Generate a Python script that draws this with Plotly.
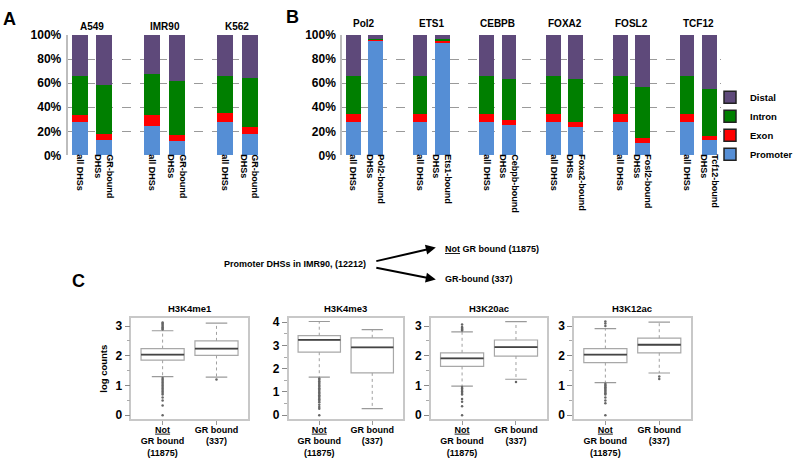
import plotly.graph_objects as go

W, H = 798, 462
FONT = "Liberation Sans, Arial, Helvetica, sans-serif"

# ---------------- Panel A data ----------------
a_groups = ["A549", "IMR90", "K562"]
a_ticks = ["all DHSs", "GR-bound<br>DHSs"] * 3
a_promoter = [27.4, 13.0, 24.5, 12.3, 27.4, 17.7]
a_exon = [6.5, 4.7, 8.8, 4.4, 7.8, 5.7]
a_intron = [31.7, 40.6, 34.4, 44.8, 30.9, 40.8]
a_distal = [34.4, 41.7, 32.3, 38.5, 33.9, 35.8]

# ---------------- Panel B data ----------------
b_groups = ["Pol2", "ETS1", "CEBPB", "FOXA2", "FOSL2", "TCF12"]
b_ticks = ["all DHSs", "Pol2-bound<br>DHSs", "all DHSs", "Ets1-bound<br>DHSs",
           "all DHSs", "Cebpb-bound<br>DHSs", "all DHSs", "Foxa2-bound<br>DHSs",
           "all DHSs", "Fosl2-bound<br>DHSs", "all DHSs", "Tcf12-bound<br>DHSs"]
b_promoter = [27.6, 95.2, 27.6, 93.5, 27.6, 25.3, 27.6, 24.0, 27.6, 10.5, 27.6, 12.7]
b_exon = [6.6, 1.0, 6.6, 1.8, 6.6, 4.0, 6.6, 4.0, 6.6, 4.0, 6.6, 3.2]
b_intron = [31.6, 0.8, 31.6, 1.5, 31.6, 34.4, 31.6, 35.7, 31.6, 42.2, 31.6, 38.9]
b_distal = [34.2, 3.0, 34.2, 3.2, 34.2, 36.3, 34.2, 36.3, 34.2, 43.3, 34.2, 45.2]

pct_vals = [0, 20, 40, 60, 80, 100]
pct_text = ["0%", "20%", "40%", "60%", "80%", "100%"]

categories = ["Promoter", "Exon", "Intron", "Distal"]
colors = {"Promoter": "#558ED5", "Exon": "#FF0000", "Intron": "#007F00", "Distal": "#5E497A"}

# ---------------- Panel C data ----------------
marks = ["H3K4me1", "H3K4me3", "H3K20ac", "H3K12ac"]
box_ticks = ["<span style='text-decoration:underline'>Not</span><br>GR bound<br>(11875)",
             "GR bound<br>(337)"]
# per mark: [Not GR bound, GR bound]
q1 = [[1.85, 2.01], [2.71, 1.82], [1.64, 1.99], [1.77, 2.10]]
med = [[2.04, 2.24], [3.24, 2.92], [1.91, 2.29], [2.04, 2.37]]
q3 = [[2.24, 2.50], [3.42, 3.33], [2.10, 2.53], [2.24, 2.59]]
lo = [[1.30, 1.28], [1.64, 0.28], [0.98, 1.21], [1.10, 1.42]]
hi = [[2.84, 3.10], [4.03, 3.68], [2.80, 3.15], [2.91, 3.13]]
outliers = [
    [[2.88, 2.92, 2.96, 3.00, 3.04, 3.08, 3.12,
      1.25, 1.20, 1.15, 1.10, 1.05, 1.00, 0.95, 0.90, 0.85, 0.80, 0.75, 0.70,
      0.60, 0.50, 0.33, 0.00], [1.20]],
    [[1.58, 1.52, 1.46, 1.40, 1.34, 1.28, 1.22, 1.16, 1.10, 1.04, 0.98, 0.92,
      0.86, 0.80, 0.74, 0.68, 0.62, 0.56, 0.45, 0.35, 0.28, 0.00], []],
    [[2.85, 2.88, 2.91, 2.94, 2.97, 3.05,
      0.95, 0.90, 0.85, 0.80, 0.75, 0.70, 0.55, 0.45, 0.30, 0.00], [1.12]],
    [[3.00, 3.08, 3.15,
      1.06, 1.02, 0.98, 0.94, 0.90, 0.86, 0.82, 0.78, 0.74, 0.70, 0.60, 0.50,
      0.40, 0.00], [1.30, 1.22]],
]


def px(x):
    return x / W


def py(y):
    return 1 - y / H


def bfont(size):
    return dict(family=FONT, size=size, color="black", weight="bold")


fig = go.Figure()

# ---- stacked bars A (x/y) and B (x2/y2)
a_x = [g * 3 + b for g in range(3) for b in range(2)]
b_x = [g * 3 + b for g in range(6) for b in range(2)]
a_vals = {"Promoter": a_promoter, "Exon": a_exon, "Intron": a_intron, "Distal": a_distal}
b_vals = {"Promoter": b_promoter, "Exon": b_exon, "Intron": b_intron, "Distal": b_distal}
for cat in categories:
    fig.add_trace(go.Bar(x=a_x, y=a_vals[cat], marker=dict(color=colors[cat], line=dict(width=0)),
                         width=0.66, showlegend=False, xaxis="x", yaxis="y", name=cat))
    fig.add_trace(go.Bar(x=b_x, y=b_vals[cat], marker=dict(color=colors[cat], line=dict(width=0)),
                         width=0.66, showlegend=False, xaxis="x2", yaxis="y2", name=cat))

# legend entries
for cat in ["Distal", "Intron", "Exon", "Promoter"]:
    fig.add_trace(go.Scatter(x=[None], y=[None], mode="markers", name=cat,
                             marker=dict(symbol="square", size=12, color=colors[cat],
                                         line=dict(color="#222", width=1.5)),
                             xaxis="x2", yaxis="y2"))

# ---- box plots
for i in range(4):
    xa = "x%d" % (i + 3)
    ya = "y%d" % (i + 3)
    for j in range(2):
        fig.add_trace(go.Box(x=[j], q1=[q1[i][j]], median=[med[i][j]], q3=[q3[i][j]],
                             lowerfence=[q1[i][j]], upperfence=[q3[i][j]],
                             width=0.8, fillcolor="white", line=dict(color="#a8a8a8", width=1.2),
                             boxpoints=False, showlegend=False, xaxis=xa, yaxis=ya,
                             hoverinfo="skip"))
        # whiskers (dotted)
        fig.add_trace(go.Scatter(x=[j, j, None, j, j], y=[q3[i][j], hi[i][j], None, q1[i][j], lo[i][j]],
                                 mode="lines", line=dict(color="#a0a0a0", width=1, dash="dot"),
                                 showlegend=False, xaxis=xa, yaxis=ya, hoverinfo="skip"))
        # whisker caps
        fig.add_trace(go.Scatter(x=[j - 0.2, j + 0.2, None, j - 0.2, j + 0.2],
                                 y=[hi[i][j], hi[i][j], None, lo[i][j], lo[i][j]],
                                 mode="lines", line=dict(color="#9a9a9a", width=1.2),
                                 showlegend=False, xaxis=xa, yaxis=ya, hoverinfo="skip"))
        # median
        fig.add_trace(go.Scatter(x=[j - 0.4, j + 0.4], y=[med[i][j], med[i][j]],
                                 mode="lines", line=dict(color="#444", width=1.8),
                                 showlegend=False, xaxis=xa, yaxis=ya, hoverinfo="skip"))
        # outliers
        if outliers[i][j]:
            fig.add_trace(go.Scatter(x=[j] * len(outliers[i][j]), y=outliers[i][j], mode="markers",
                                     marker=dict(color="#666", size=2.5),
                                     showlegend=False, xaxis=xa, yaxis=ya, hoverinfo="skip"))

bar_y = dict(range=[0, 100], tickvals=pct_vals, ticktext=pct_text,
             showgrid=True, gridcolor="#9a9a9a", griddash="dash", gridwidth=1,
             zeroline=False, showline=True, linecolor="#bdbdbd", linewidth=2,
             ticks="", tickfont=bfont(12), ticklabelstandoff=2)
bar_x_common = dict(tickangle=90, showgrid=False, zeroline=False, showline=False, ticks="",
                    tickfont=bfont(9), ticklabelstandoff=-2)

layout = dict(
    width=W, height=H, margin=dict(l=0, r=0, t=0, b=0),
    plot_bgcolor="white", paper_bgcolor="white", barmode="stack",
    font=dict(family=FONT, color="black"),
    xaxis=dict(domain=[px(68), px(263)], range=[-0.49, 7.5], tickvals=a_x, ticktext=a_ticks,
               anchor="y", **bar_x_common),
    yaxis=dict(domain=[py(153), py(29)], anchor="x", **bar_y),
    xaxis2=dict(domain=[px(344), px(725)], range=[-0.49, 16.54], tickvals=b_x, ticktext=b_ticks,
                anchor="y2", **bar_x_common),
    yaxis2=dict(domain=[py(153), py(29)], anchor="x2", **bar_y),
    legend=dict(x=px(714), y=py(78), xanchor="left", yanchor="top", traceorder="normal",
                font=bfont(9.5), itemwidth=30, bgcolor="rgba(0,0,0,0)"),
)

box_xdom = [(132, 249), (290, 405), (433, 550), (577, 694)]
box_yr = [[-0.13, 3.26], [-0.17, 4.17], [-0.13, 3.26], [-0.13, 3.26]]
box_ytv = [[0, 1, 2, 3], [0, 1, 2, 3, 4], [0, 1, 2, 3], [0, 1, 2, 3]]
for i in range(4):
    n = i + 3
    layout["xaxis%d" % n] = dict(domain=[px(box_xdom[i][0]), px(box_xdom[i][1])], range=[-0.58, 1.58],
                                 tickvals=[0, 1], ticktext=box_ticks, anchor="y%d" % n,
                                 showline=True, mirror=True, linecolor="#c8c8c8", linewidth=1.5,
                                 ticks="outside", ticklen=4, tickcolor="#999", showgrid=False,
                                 zeroline=False, tickfont=bfont(9), ticklabelstandoff=-3)
    layout["yaxis%d" % n] = dict(domain=[py(425), py(321)], range=box_yr[i], tickvals=box_ytv[i],
                                 anchor="x%d" % n, showline=True, mirror=True, linecolor="#c8c8c8",
                                 linewidth=1.5, ticks="outside", ticklen=5, tickcolor="#888",
                                 showgrid=False, zeroline=False, tickfont=bfont(12),
                                 minor=dict(dtick=0.5, ticks="outside", ticklen=3, tickcolor="#aaa"))
layout["yaxis3"]["title"] = dict(text="log counts", font=bfont(9.5), standoff=6)

annotations = []
# panel letters
for letter, x, y in [("A", 1, 12), ("B", 285, 10), ("C", 70, 283)]:
    annotations.append(dict(text=letter, x=px(x), y=py(y), xref="paper", yref="paper",
                            xanchor="left", yanchor="middle", showarrow=False, font=bfont(18)))
# group titles
for g, name in enumerate(a_groups):
    annotations.append(dict(text=name, x=g * 3 + 0.5, y=py(20), xref="x", yref="paper",
                            xanchor="center", yanchor="middle", showarrow=False, font=bfont(10)))
for g, name in enumerate(b_groups):
    annotations.append(dict(text=name, x=g * 3 + 0.5, y=py(17), xref="x2", yref="paper",
                            xanchor="center", yanchor="middle", showarrow=False, font=bfont(10)))
# box titles
for i, m in enumerate(marks):
    annotations.append(dict(text=m, x=px((box_xdom[i][0] + box_xdom[i][1]) / 2), y=py(311),
                            xref="paper", yref="paper", xanchor="center", yanchor="middle",
                            showarrow=False, font=bfont(9.5)))
# flow text
annotations.append(dict(text="Promoter DHSs in IMR90, (12212)", x=px(223), y=py(265), xref="paper",
                        yref="paper", xanchor="left", yanchor="middle", showarrow=False, font=bfont(9)))
annotations.append(dict(text="<span style='text-decoration:underline'>Not</span> GR bound (11875)",
                        x=px(445), y=py(250), xref="paper", yref="paper", xanchor="left",
                        yanchor="middle", showarrow=False, font=bfont(9)))
annotations.append(dict(text="GR-bound (337)", x=px(445), y=py(281), xref="paper", yref="paper",
                        xanchor="left", yanchor="middle", showarrow=False, font=bfont(9)))
for hx, hy, ax, ay in [(438, 248, -61, 14), (438, 281, -61, -12)]:
    annotations.append(dict(text="", x=px(hx), y=py(hy), xref="paper", yref="paper", showarrow=True,
                            ax=ax, ay=ay, arrowhead=2, arrowsize=1, arrowwidth=2, arrowcolor="black"))
layout["annotations"] = annotations

fig.update_layout(**layout)
fig.write_html("out.html", config={"displayModeBar": False},
               post_script="document.body.style.margin='0';document.body.style.padding='0';")
